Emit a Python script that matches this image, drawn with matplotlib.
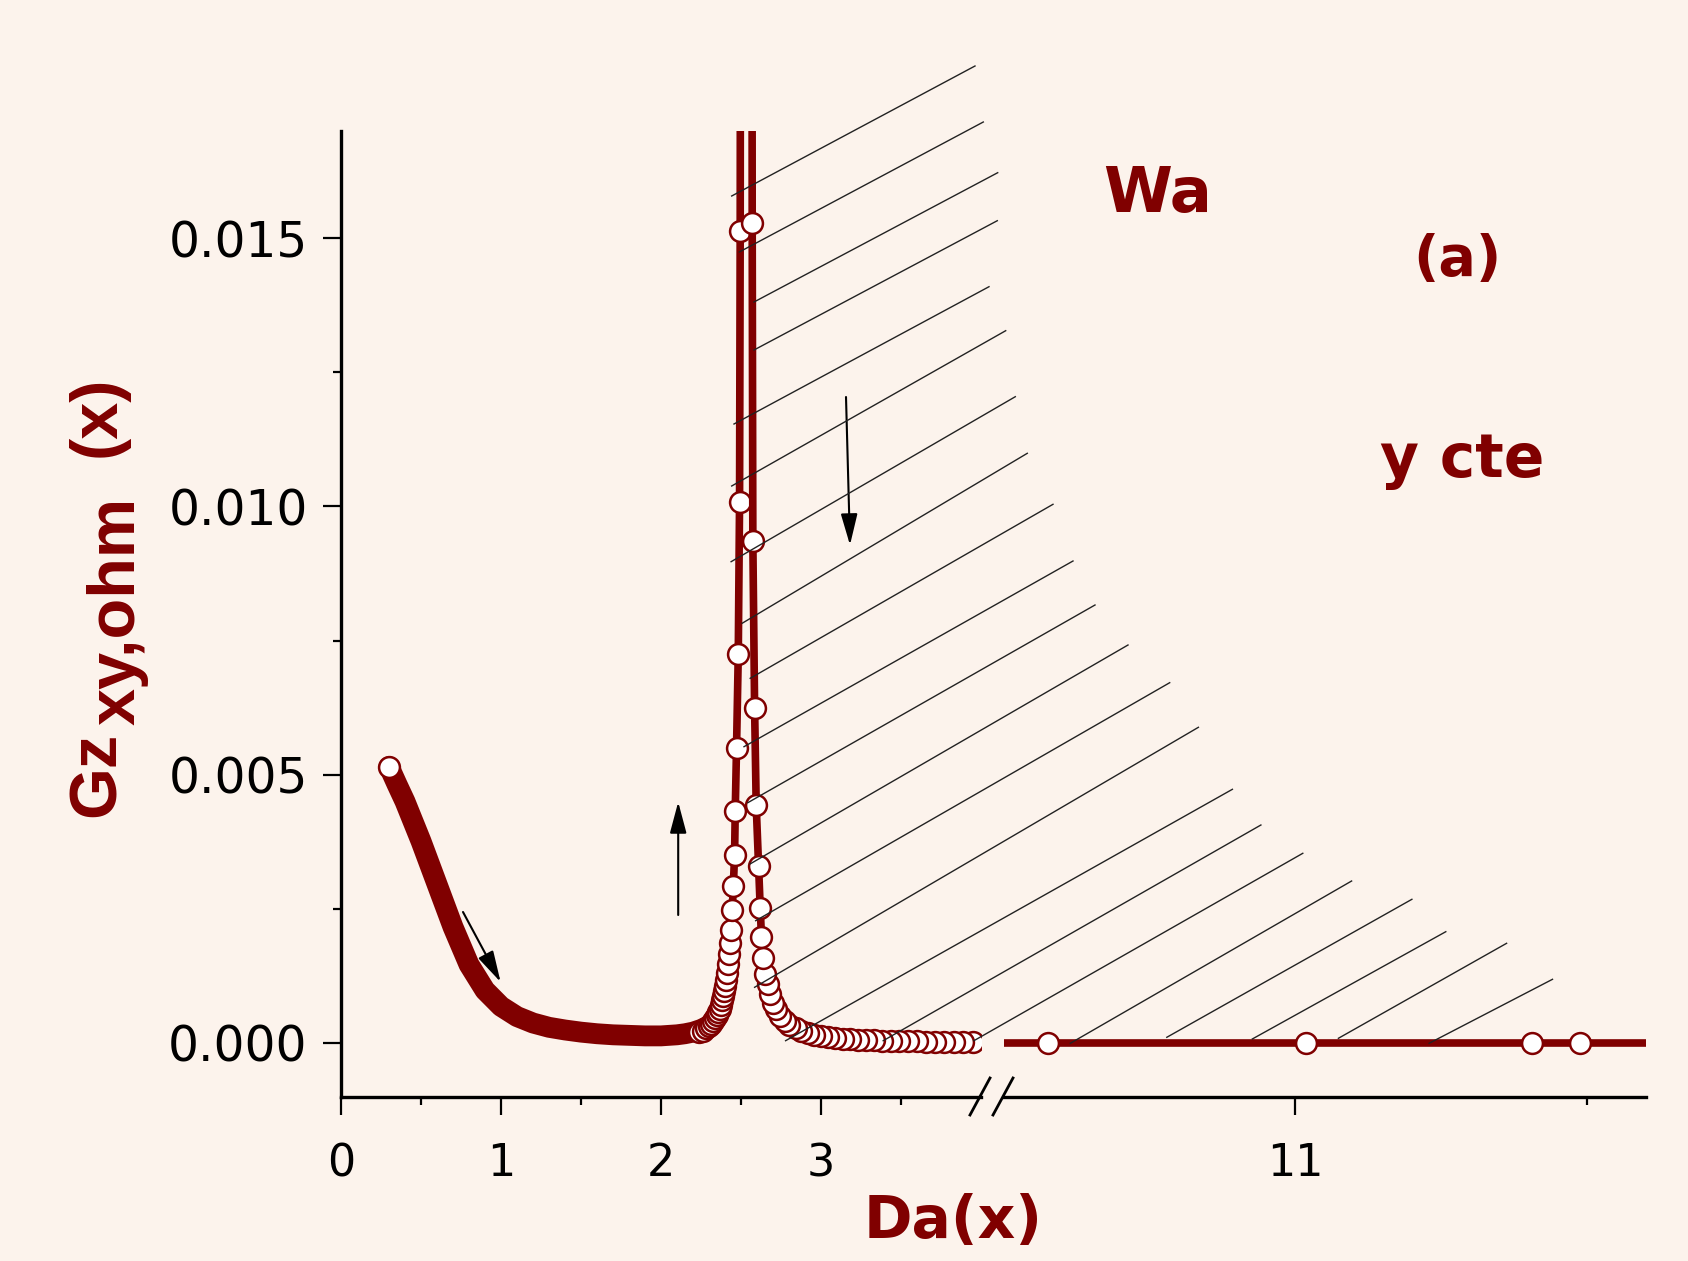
import numpy as np
import matplotlib.pyplot as plt
from matplotlib import font_manager
from matplotlib.lines import Line2D
from matplotlib.patches import FancyArrowPatch
from matplotlib.ticker import FormatStrFormatter

###############################################
# Données
###############################################
# Branche gauche : bande dense de cercles (centre de la bande)
bande_x = [0.30, 0.35, 0.40, 0.50, 0.60, 0.70, 0.80, 0.90, 1.00, 1.10, 1.20, 1.30,
           1.40, 1.50, 1.60, 1.70, 1.80, 1.90, 2.00, 2.10, 2.15, 2.20, 2.25, 2.30]
bande_y = [0.00515, 0.00482, 0.00450, 0.00376, 0.00296, 0.00216, 0.00146, 0.00098,
           0.00068, 0.00049, 0.00037, 0.00029, 0.00024, 0.00020, 0.00017, 0.00015,
           0.00014, 0.00013, 0.00013, 0.00015, 0.00017, 0.00020, 0.00025, 0.00032]

# Branche gauche du pic (cercles visibles)
gauche_x = [2.240, 2.260, 2.280, 2.297, 2.312, 2.325, 2.337, 2.348, 2.358, 2.367,
            2.375, 2.382, 2.389, 2.396, 2.402, 2.408, 2.414, 2.420, 2.427, 2.433,
            2.439, 2.445, 2.452, 2.460, 2.464, 2.472, 2.483, 2.491, 2.495, 2.498]
gauche_y = [0.00020, 0.00023, 0.00027, 0.00031, 0.00036, 0.00041, 0.00046, 0.00052,
            0.00058, 0.00064, 0.00071, 0.00079, 0.00087, 0.00096, 0.00106, 0.00118,
            0.00131, 0.00147, 0.00165, 0.00187, 0.00211, 0.00247, 0.00292, 0.00351,
            0.00433, 0.00549, 0.00725, 0.01009, 0.01514, 0.02400]

# Branche droite du pic (du sommet vers la queue)
droite_x = [2.568, 2.570, 2.574, 2.585, 2.595, 2.610, 2.620, 2.628, 2.639, 2.651,
            2.668, 2.683, 2.699, 2.720, 2.745, 2.772, 2.803, 2.841, 2.876, 2.918,
            2.959, 3.001, 3.045, 3.090, 3.135, 3.180, 3.230, 3.280, 3.330, 3.380,
            3.435, 3.490, 3.545, 3.600, 3.655, 3.710, 3.770, 3.830, 3.890, 3.950]
droite_y = [0.02400, 0.01529, 0.00936, 0.00625, 0.00443, 0.00329, 0.00252, 0.00197,
            0.00159, 0.00128, 0.00109, 0.00091, 0.00075, 0.00063, 0.00050, 0.00041,
            0.00034, 0.00028, 0.00023, 0.00018, 0.00015, 0.00013, 0.000105, 0.00009,
            0.000078, 0.000068, 0.00006, 0.000053, 0.000047, 0.000042, 0.000038,
            0.000034, 0.00003, 0.000027, 0.000025, 0.000023, 0.00002, 0.000018,
            0.000017, 0.000015]

# Après la coupure de l'axe
apres_x = [10.154, 11.037, 11.812, 11.974]
apres_y = [0.0, 0.0, 0.0, 0.0]
ligne_x = [9.9, 12.3]
ligne_y = [0.0, 0.0]

# Graduations
yticks = [0.000, 0.005, 0.010, 0.015]
yticks_min = [0.0025, 0.0075, 0.0125]
xticks_g = [0, 1, 2, 3]
xticks_g_min = [0.5, 1.5, 2.5, 3.5]
xticks_d = [11]
xticks_d_min = [12]

###############################################
# Mise en page (coordonnées en pixels de l'image)
###############################################
ROUGE = '#800000'
FOND = '#FCF3EC'
W, H = 1688, 1261


def fx(px):
    return px / W


def fy(py):
    return 1 - py / H


fig = plt.figure(figsize=(W / 100, H / 100), dpi=100, facecolor=FOND)

bas, haut = 1096.5, 131.0
ax1 = fig.add_axes([fx(341), fy(bas), fx(981) - fx(341), fy(haut) - fy(bas)])
ax2 = fig.add_axes([fx(1003.5), fy(bas), fx(1645.6) - fx(1003.5), fy(haut) - fy(bas)])
for ax in (ax1, ax2):
    ax.set_facecolor('none')
    ax.set_ylim(-0.001, 0.017)
    for s in ('top', 'right'):
        ax.spines[s].set_visible(False)
    for s in ('left', 'bottom'):
        ax.spines[s].set_linewidth(2.4)
    ax.tick_params(which='major', direction='out', length=13, width=1.6)
    ax.tick_params(which='minor', direction='out', length=6, width=1.6)
    ax.tick_params(axis='x', labelsize=32, pad=20)
    ax.tick_params(axis='y', labelsize=35, pad=11)

ax1.set_xlim(0, 4.0)
ax2.set_xlim(10, 12.2)
ax2.spines['left'].set_visible(False)
ax2.yaxis.set_visible(False)

ax1.set_yticks(yticks)
ax1.set_yticks(yticks_min, minor=True)
ax1.yaxis.set_major_formatter(FormatStrFormatter('%.3f'))
ax1.set_xticks(xticks_g)
ax1.set_xticks(xticks_g_min, minor=True)
ax2.set_xticks(xticks_d)
ax2.set_xticks(xticks_d_min, minor=True)

# Courbes
cercle = dict(marker='o', ms=15, mfc='white', mec=ROUGE, mew=1.8)
ax1.plot(bande_x, bande_y, color=ROUGE, lw=15, solid_capstyle='round', solid_joinstyle='round')
ax1.plot(gauche_x, gauche_y, color=ROUGE, lw=5.5, **cercle)
ax1.plot(droite_x[::-1], droite_y[::-1], color=ROUGE, lw=5.5, **cercle)
ax1.plot(bande_x[:1], bande_y[:1], ls='none', **cercle)

ax2.plot(ligne_x, ligne_y, color=ROUGE, lw=5.5)
ax2.plot(apres_x, apres_y, ls='none', **cercle)

# Hachures (pixels de l'image)
hachures = [
    ((731.7, 196), (975, 66)), ((739.3, 252), (983.3, 122)), ((754, 302), (997.7, 172.7)),
    ((754, 350), (997.3, 220.7)), ((734, 424), (989, 286.7)), ((731.7, 486), (1005.7, 330.7)),
    ((731.1, 561.7), (1015.3, 396.7)), ((742.1, 623.3), (1027.3, 453.3)),
    ((750.2, 678.3), (1053, 504.3)), ((744, 746.7), (1073, 561)), ((747.8, 802.7), (1095, 605)),
    ((750, 864), (1128, 645)), ((755.7, 920.7), (1169.7, 682.7)), ((754.6, 987.3), (1198.4, 727.3)),
    ((785.6, 1040.7), (1232.4, 789.3)), ((883.2, 1040.7), (1260.9, 825)),
    ((973.9, 1040.7), (1302.8, 853.3)), ((1070.3, 1043.3), (1351.6, 881)),
    ((1166.8, 1037.3), (1411.9, 899.3)), ((1252.3, 1039), (1445.8, 931.7)),
    ((1338.4, 1038.3), (1506.6, 943.3)), ((1429.1, 1043.3), (1552.5, 979.3)),
]
for (x0, y0), (x1, y1) in hachures:
    fig.add_artist(Line2D([fx(x0), fx(x1)], [fy(y0), fy(y1)], transform=fig.transFigure,
                          color='#222222', lw=1.0))

# Marques de coupure
for x0, x1 in ((970, 990), (993, 1013)):
    fig.add_artist(Line2D([fx(x0), fx(x1)], [fy(1115), fy(1078)], transform=fig.transFigure,
                          color='black', lw=2.0))

# Flèches
fleches = [((463, 912), (500.6, 982)), ((678.2, 915), (678.2, 802)), ((846, 397), (850, 545))]
for (x0, y0), (x1, y1) in fleches:
    fig.add_artist(FancyArrowPatch((fx(x0), fy(y0)), (fx(x1), fy(y1)), transform=fig.transFigure,
                                   arrowstyle='-|>,head_length=0.6,head_width=0.16',
                                   mutation_scale=32, lw=1.5, color='black',
                                   shrinkA=0, shrinkB=0))

# Titres des axes (police étroite si disponible)
polices = {f.name for f in font_manager.fontManager.ttflist}
if 'Liberation Sans Narrow' in polices:
    police_etroite, taille_y = 'Liberation Sans Narrow', 55
else:
    police_etroite, taille_y = 'Liberation Sans', 48
for texte, px, py in (('Gz', 115, 817), ('xy,ohm', 135, 725), ('(x)', 115, 457)):
    fig.text(fx(px), fy(py), texte, rotation=90, rotation_mode='anchor', ha='left',
             va='baseline', fontsize=taille_y, fontweight='bold', color=ROUGE,
             family=police_etroite)

fig.text(fx(953), fy(1238), 'Da(x)', ha='center', va='baseline', fontsize=42,
         fontweight='bold', color=ROUGE)

# Annotations
fig.text(fx(1103), fy(212), 'Wa', ha='left', va='baseline', fontsize=45, fontweight='bold', color=ROUGE)
fig.text(fx(1413), fy(274.5), '(a)', ha='left', va='baseline', fontsize=40, fontweight='bold', color=ROUGE)
fig.text(fx(1380), fy(477), 'y cte', ha='left', va='baseline', fontsize=43, fontweight='bold', color=ROUGE)

plt.savefig('out.png', dpi=100, facecolor=FOND)
